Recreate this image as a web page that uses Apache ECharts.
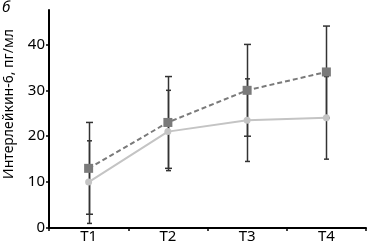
<!DOCTYPE html>
<html><head><meta charset="utf-8">
<script src="https://cdn.jsdelivr.net/npm/echarts@6/dist/echarts.min.js"></script>
<style>html,body{margin:0;padding:0;background:#fff}#c{width:367px;height:244px}</style>
</head><body><div id="c"></div>
<script>
var categories = ['T1', 'T2', 'T3', 'T4'];
var darkMean = [13, 23, 30, 34];
var darkLow = [3, 13, 20, 24];
var darkHigh = [23, 33, 40, 44];
var lightMean = [10, 21, 23.5, 24];
var lightLow = [1, 12.5, 14.5, 15];
var lightHigh = [19, 30, 32.5, 33];
var yTicks = [0, 10, 20, 30, 40];
var yTitle = 'Интерлейкин-6, пг/мл';

function errData(low, high) {
  return categories.map(function (c, i) { return [i, low[i], high[i]]; });
}
function errRender(capW, color) {
  return function (params, api) {
    var lo = api.coord([api.value(0), api.value(1)]);
    var hi = api.coord([api.value(0), api.value(2)]);
    var x = Math.round(lo[0]) + 0.5;
    var st = { stroke: color, lineWidth: 1.5 };
    return { type: 'group', children: [
      { type: 'line', shape: { x1: x, y1: hi[1], x2: x, y2: lo[1] }, style: st },
      { type: 'line', shape: { x1: x - capW, y1: hi[1], x2: x + capW, y2: hi[1] }, style: st },
      { type: 'line', shape: { x1: x - capW, y1: lo[1], x2: x + capW, y2: lo[1] }, style: st }
    ]};
  };
}
var chart = echarts.init(document.getElementById('c'), null, { renderer: 'canvas' });
var font = 'Noto Sans, Open Sans, sans-serif';
chart.setOption({
  animation: false,
  grid: { left: 49, right: 1, top: 10, bottom: 16 },
  graphic: [
    { type: 'text', left: 2, top: 0, style: { text: 'б', font: 'italic 15px ' + font, fill: '#000' } },
    { type: 'text', x: 9, y: 104, rotation: Math.PI / 2,
      style: { text: yTitle, font: '14px ' + font, fill: '#000', align: 'center', verticalAlign: 'middle' } }
  ],
  xAxis: {
    type: 'category', data: categories, boundaryGap: true,
    axisLine: { lineStyle: { color: '#000', width: 2 } },
    axisTick: { show: true, length: 3, lineStyle: { color: '#000', width: 1.5 } },
    axisLabel: { color: '#000', fontSize: 15, fontFamily: font, margin: 1 }
  },
  yAxis: {
    type: 'value', min: 0, max: 47.5, interval: 10,
    splitLine: { show: false },
    axisLine: { show: true, lineStyle: { color: '#000', width: 2 } },
    axisTick: { show: true, length: 3, lineStyle: { color: '#000', width: 1.5 } },
    axisLabel: { color: '#000', fontSize: 15, fontFamily: font, margin: 4, showMaxLabel: false,
      formatter: function (v) { return yTicks.indexOf(v) >= 0 ? String(v) : ''; } }
  },
  series: [
    { type: 'custom', data: errData(lightLow, lightHigh), renderItem: errRender(2.5, '#333'), z: 1, silent: true },
    { type: 'custom', data: errData(darkLow, darkHigh), renderItem: errRender(3.5, '#333'), z: 1, silent: true },
    { type: 'line', data: lightMean, symbol: 'circle', symbolSize: 7, z: 3,
      itemStyle: { color: '#c4c4c4' }, lineStyle: { color: '#c4c4c4', width: 2 } },
    { type: 'line', data: darkMean, symbol: 'rect', symbolSize: 9, z: 4,
      itemStyle: { color: '#7a7a7a' }, lineStyle: { color: '#7a7a7a', width: 2, type: [5, 3] } }
  ]
});
</script></body></html>
